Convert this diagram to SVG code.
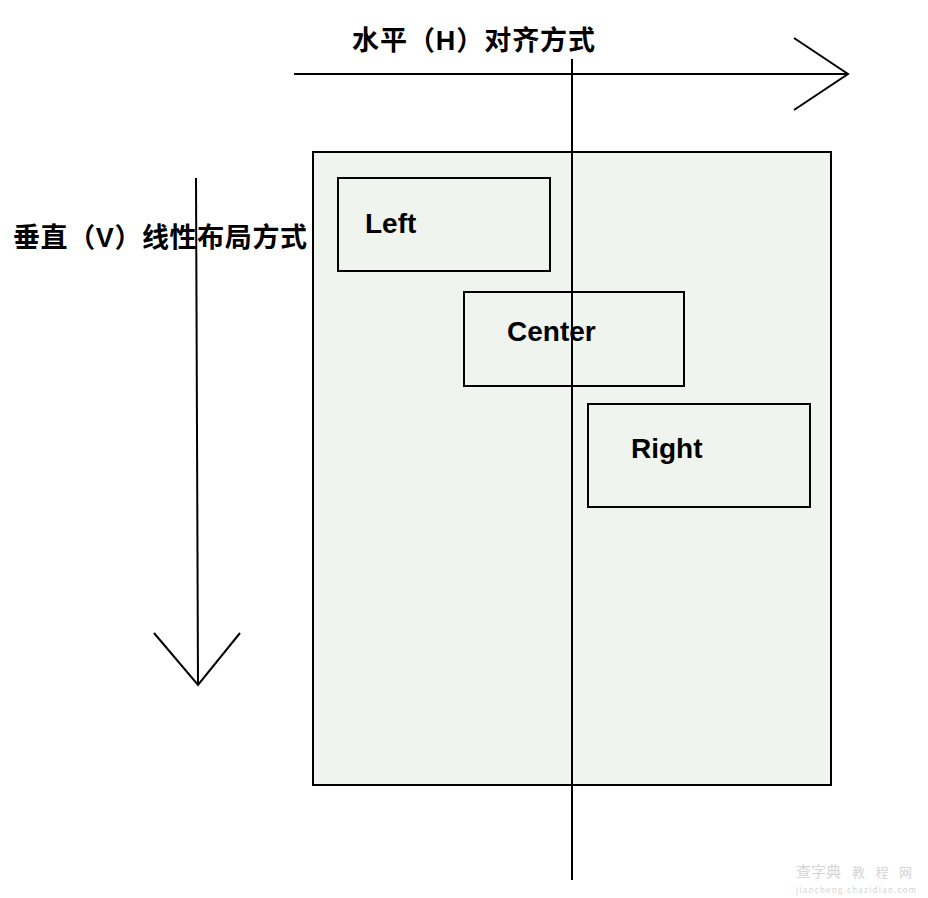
<svg xmlns="http://www.w3.org/2000/svg" width="928" height="898" viewBox="0 0 928 898">
<style>
.ln{stroke:#000;stroke-width:2;fill:none}
.box{fill:#eff4ee;stroke:#000;stroke-width:2}
.lbl{font-family:"Liberation Sans",Arial,sans-serif;font-weight:bold;font-size:28px;fill:#000}
.cjk{font-family:"Liberation Sans","Noto Sans CJK SC",sans-serif;font-weight:bold;font-size:27px;fill:#000}
.wm{font-family:"Noto Sans CJK SC",sans-serif;fill:#d4d4d4}
</style>
<rect width="928" height="898" fill="#fff"/>
<g id="container">
<rect class="box" x="313" y="152" width="518" height="633"/>
</g>
<g id="left">
<rect class="box" x="338" y="178" width="212" height="93"/>
<text class="lbl" x="365" y="233">Left</text>
</g>
<g id="center">
<rect class="box" x="464" y="292" width="220" height="94"/>
<text class="lbl" x="507" y="341">Center</text>
</g>
<g id="right">
<rect class="box" x="588" y="404" width="222" height="103"/>
<text class="lbl" x="631" y="458">Right</text>
</g>
<g id="connectors">
<line class="ln" x1="572" y1="59" x2="572" y2="880"/>
<line class="ln" x1="294" y1="74" x2="848" y2="74"/>
<polyline class="ln" points="794,38 848,74 794,110"/>
<line class="ln" x1="196" y1="178" x2="198" y2="685"/>
<polyline class="ln" points="154,633 198,685 240,633"/>
</g>
<g id="h-label">
<text class="cjk" x="352" y="50" textLength="243" lengthAdjust="spacing">水平（H）对齐方式</text>
</g>
<g id="v-label">
<text class="cjk" x="13" y="247" textLength="294" lengthAdjust="spacing">垂直（V）线性布局方式</text>
</g>
<g id="watermark">
<text class="wm" x="796" y="877" font-size="15">查字典</text>
<text class="wm" x="852" y="877" font-size="13" textLength="60" lengthAdjust="spacing">教程网</text>
<text class="wm" x="796" y="893" font-size="8" textLength="120" lengthAdjust="spacing" font-family="Liberation Serif,serif">jiaocheng.chazidian.com</text>
</g>
</svg>
